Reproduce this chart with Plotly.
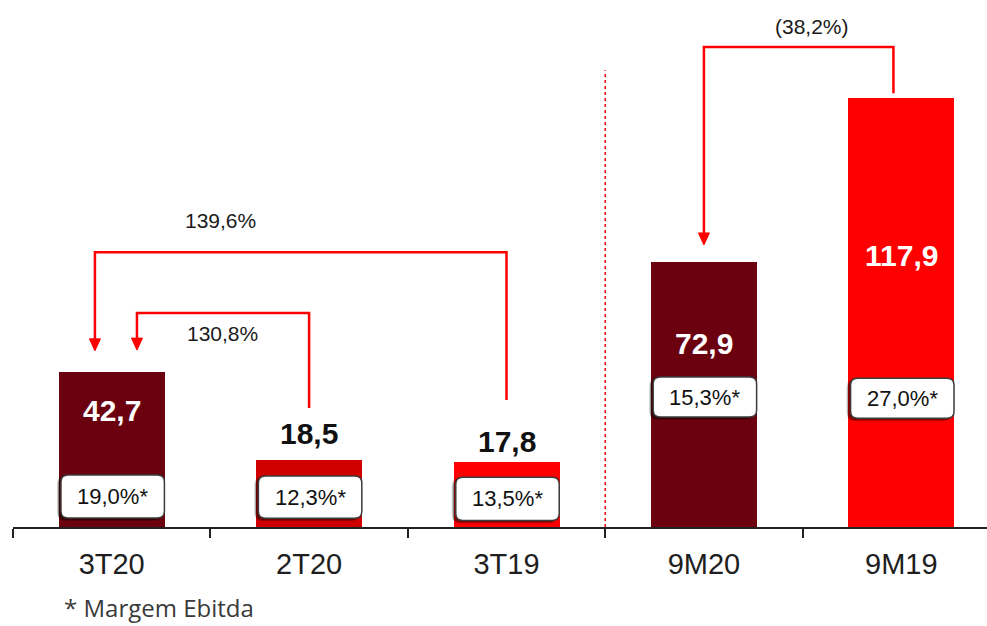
import plotly.graph_objects as go

# ---------------- data ----------------
categories = ["3T20", "2T20", "3T19", "9M20", "9M19"]
ebitda = [42.7, 18.5, 17.8, 72.9, 117.9]
margins = [19.0, 12.3, 13.5, 15.3, 27.0]
growth_labels = ["139,6%", "130,8%", "(38,2%)"]
growth_pairs = [(2, 0), (1, 0), (4, 3)]  # (from, to)
footnote = "* Margem Ebitda"

# ---------------- style / layout ----------------
bar_colors = ["#6b000f", "#d00000", "#ff0000", "#6b000f", "#ff0000"]
label_inside = [True, False, False, True, True]
label_y = [31.9, 25.8, 23.6, 50.5, 74.7]          # data units
box_y = [(2.5, 14.3), (2.4, 14.0), (1.8, 13.7), (30.2, 41.2), (29.9, 40.9)]
bracket_geo = [  # left dx, right dx, top y, right bottom y, tip y, label x, label y
    (-0.085, 0.0, 75.5, 34.9, 48.4, 0.549, 84.1),
    (0.128, 0.0, 58.8, 32.7, 48.6, 0.559, 53.3),
    (0.0, -0.04, 131.9, 119.2, 77.5, 3.548, 137.6),
]

W, H = 987, 626
ML, MR, MT, MB = 13, 0, 0, 99
Y_MAX = 144.8
X_RANGE = [-0.5, 4.434]
px_x = (W - ML - MR) / (X_RANGE[1] - X_RANGE[0])
px_y = (H - MT - MB) / Y_MAX

BAR_W = 0.537
RED = "#ff0000"
FONT = "Liberation Sans, Arial, sans-serif"


def fmt(v):
    return f"{v:.1f}".replace(".", ",")


def rrect(x0, x1, y0, y1, r_px=7):
    rx, ry = r_px / px_x, r_px / px_y
    return (f"M{x0+rx},{y0} L{x1-rx},{y0} Q{x1},{y0} {x1},{y0+ry} "
            f"L{x1},{y1-ry} Q{x1},{y1} {x1-rx},{y1} L{x0+rx},{y1} "
            f"Q{x0},{y1} {x0},{y1-ry} L{x0},{y0+ry} Q{x0},{y0} {x0+rx},{y0} Z")


fig = go.Figure()
fig.add_trace(go.Bar(
    x=categories, y=ebitda, width=BAR_W,
    marker=dict(color=bar_colors, line=dict(width=0)),
    hoverinfo="skip", showlegend=False,
))

shapes = []
annotations = []

# value labels
for i, v in enumerate(ebitda):
    annotations.append(dict(
        x=i, y=label_y[i], xref="x", yref="y", text=f"<b>{fmt(v)}</b>",
        showarrow=False, xanchor="center", yanchor="middle",
        font=dict(family=FONT, size=30,
                  color="white" if label_inside[i] else "#111111"),
    ))

# margin boxes
hw = 0.262
for i, m in enumerate(margins):
    y0, y1 = box_y[i]
    cx = i + 0.005
    sx, sy = 3 / px_x, 2 / px_y
    shapes.append(dict(type="path", xref="x", yref="y",
                       path=rrect(cx - hw - sx - 1 / px_x, cx + hw - sx + 1 / px_x,
                                  y0 - sy - 1 / px_y, y1 - sy + 2 / px_y, 9),
                       fillcolor="rgba(0,0,0,0.18)", line=dict(width=0), layer="above"))
    shapes.append(dict(type="path", xref="x", yref="y",
                       path=rrect(cx - hw - sx, cx + hw - sx, y0 - sy, y1 - sy),
                       fillcolor="rgba(0,0,0,0.35)", line=dict(width=0), layer="above"))
    shapes.append(dict(type="path", xref="x", yref="y",
                       path=rrect(cx - hw, cx + hw, y0, y1),
                       fillcolor="white", line=dict(color="#3c3c3c", width=1.5),
                       layer="above"))
    annotations.append(dict(
        x=cx, y=(y0 + y1) / 2, xref="x", yref="y", text=f"{fmt(m)}%*",
        showarrow=False, xanchor="center", yanchor="middle",
        font=dict(family=FONT, size=22, color="#111111"),
    ))

# growth brackets
ah_w = 5.5 / px_x
ah_h = 12 / px_y
for (src, dst), txt, g in zip(growth_pairs, growth_labels, bracket_geo):
    ldx, rdx, top, rbot, tip, lx, ly = g
    xl = dst + ldx
    xr = src + rdx
    shapes.append(dict(type="path", xref="x", yref="y",
                       path=f"M{xr},{rbot} L{xr},{top} L{xl},{top} L{xl},{tip + ah_h * 0.7}",
                       line=dict(color=RED, width=2.5), layer="above"))
    shapes.append(dict(type="path", xref="x", yref="y",
                       path=f"M{xl - ah_w},{tip + ah_h} L{xl + ah_w},{tip + ah_h} L{xl},{tip} Z",
                       fillcolor=RED, line=dict(color=RED, width=1), layer="above"))
    annotations.append(dict(
        x=lx, y=ly, xref="x", yref="y", text=txt, showarrow=False,
        xanchor="center", yanchor="middle",
        font=dict(family=FONT, size=21, color="#1a1a1a"),
    ))

# dotted separator
shapes.append(dict(type="line", xref="x", yref="y", x0=2.5, x1=2.5, y0=0, y1=125.5,
                   line=dict(color=RED, width=1.5, dash="dot"), layer="below"))

# footnote
annotations.append(dict(
    x=(62 - ML) / (W - ML - MR), y=-0.153, xref="paper", yref="paper",
    text=footnote, showarrow=False, xanchor="left", yanchor="middle",
    font=dict(family="Open Sans, Noto Sans, sans-serif", size=24, color="#3a3a3a"),
))

fig.update_layout(
    width=W, height=H,
    margin=dict(l=ML, r=MR, t=MT, b=MB, pad=0),
    paper_bgcolor="white", plot_bgcolor="white",
    shapes=shapes, annotations=annotations,
    showlegend=False, bargap=0,
    xaxis=dict(
        type="category", range=X_RANGE, showgrid=False, zeroline=False,
        showline=True, linecolor="#222222", linewidth=1.5,
        ticks="outside", tickson="boundaries", ticklen=9, tickwidth=1.5,
        tickcolor="#222222", ticklabelstandoff=10,
        tickfont=dict(family=FONT, size=29, color="#1e1e1e"),
        fixedrange=True,
    ),
    yaxis=dict(visible=False, range=[0, Y_MAX], fixedrange=True),
)

fig.write_html(
    "out.html",
    config={"displayModeBar": False},
    post_script="document.body.style.margin='0';document.body.style.overflow='hidden';",
)
